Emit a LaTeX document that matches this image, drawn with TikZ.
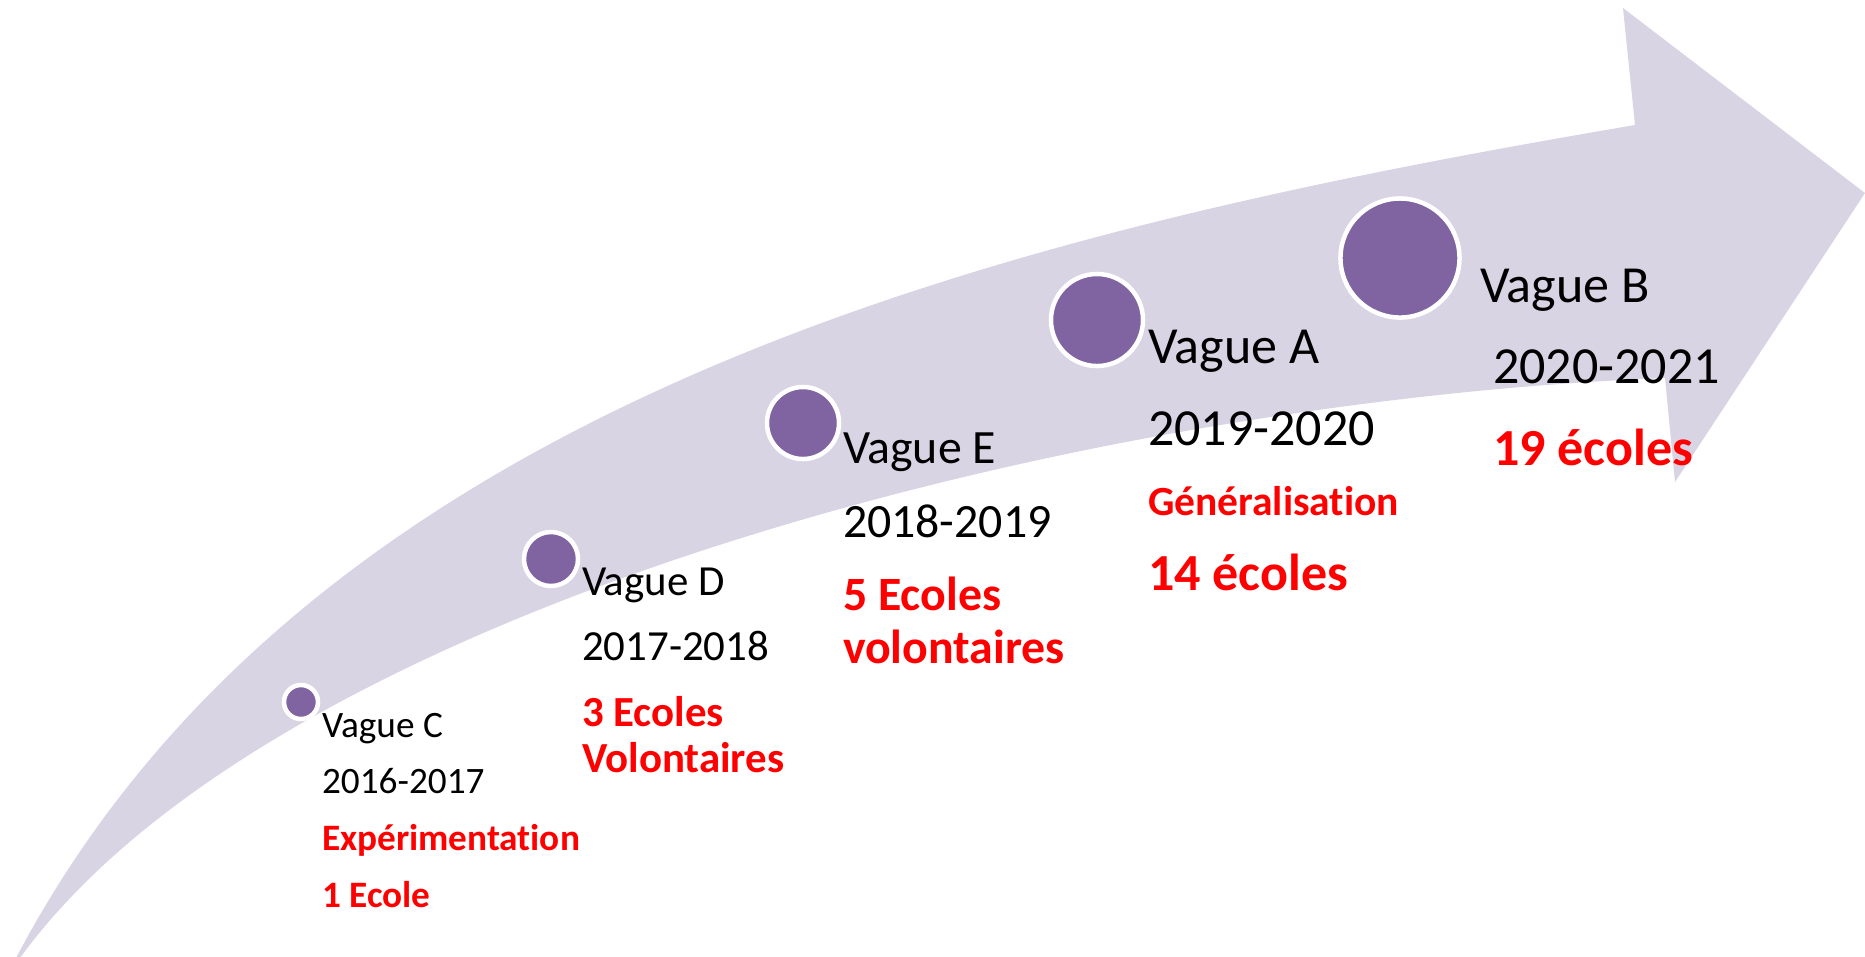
\documentclass[tikz,border=0pt]{standalone}
\usepackage{fontspec}
\setmainfont{Carlito}[Ligatures={NoCommon}]
\definecolor{arrowfill}{RGB}{216,212,227}
\definecolor{dotfill}{RGB}{128,100,162}
\definecolor{txtred}{RGB}{255,0,0}
\tikzset{
  lab/.style={anchor=base west, inner sep=0pt, outer sep=0pt, text=black},
  redlab/.style={lab, text=txtred, font=\bfseries},
  dot/.style={circle, fill=dotfill, draw=white, line width=0.045cm, inner sep=0pt, outer sep=0pt},
  fsC/.style={font=\fontsize{10.6pt}{12pt}\selectfont},
  fsCb/.style={font=\fontsize{10.6pt}{12pt}\selectfont\bfseries},
  fsD/.style={font=\fontsize{12.2pt}{14pt}\selectfont},
  fsDb/.style={font=\fontsize{12.2pt}{14pt}\selectfont\bfseries},
  fsE/.style={font=\fontsize{13.6pt}{16pt}\selectfont},
  fsEb/.style={font=\fontsize{13.6pt}{16pt}\selectfont\bfseries},
  fsA/.style={font=\fontsize{14.8pt}{17pt}\selectfont},
  fsAb/.style={font=\fontsize{14.8pt}{17pt}\selectfont\bfseries},
  fsAs/.style={font=\fontsize{11.8pt}{14pt}\selectfont\bfseries},
}
\begin{document}
\begin{tikzpicture}[x=0.01cm, y=-0.01cm]
\useasboundingbox (0,0) rectangle (1865,956);
\clip (0,0) rectangle (1865,956);
% curved arrow
\fill[arrowfill] (16,958) .. controls (316,388) and (1035,227) .. (1635,125)
  -- (1623,8) -- (1865,193) -- (1675,482) -- (1665,378)
  .. controls (1065,402) and (270,613) .. (20,958)
  -- cycle;
% circles
\node[dot, minimum size=0.34cm] (cC) at (301,702) {};
\node[dot, minimum size=0.54cm] (cD) at (551,559) {};
\node[dot, minimum size=0.72cm] (cE) at (803,423) {};
\node[dot, minimum size=0.92cm] (cA) at (1097,320) {};
\node[dot, minimum size=1.19cm] (cB) at (1400,258) {};
% Vague C
\node[lab, fsC] (tC1) at (322,737) {Vague C};
\node[lab, fsC] (tC2) at (322,793) {2016-2017};
\node[redlab, fsCb] (tC3) at (322,850) {Expérimentation};
\node[redlab, fsCb] (tC4) at (322,907) {1 Ecole};
% Vague D
\node[lab, fsD] (tD1) at (582,595) {Vague D};
\node[lab, fsD] (tD2) at (582,660) {2017-2018};
\node[redlab, fsDb] (tD3) at (582,726) {3 Ecoles};
\node[redlab, fsDb] (tD4) at (582,772) {Volontaires};
% Vague E
\node[lab, fsE] (tE1) at (843,463) {Vague E};
\node[lab, fsE] (tE2) at (843,537) {2018-2019};
\node[redlab, fsEb] (tE3) at (843,610) {5 Ecoles};
\node[redlab, fsEb] (tE4) at (843,663) {volontaires};
% Vague A
\node[lab, fsA] (tA1) at (1148,363) {Vague A};
\node[lab, fsA] (tA2) at (1148,445) {2019-2020};
\node[redlab, fsAs] (tA3) at (1148,515) {Généralisation};
\node[redlab, fsAb] (tA4) at (1148,590) {14 écoles};
% Vague B
\node[lab, fsA] (tB1) at (1480,302) {Vague B};
\node[lab, fsA] (tB2) at (1493,383) {2020-2021};
\node[redlab, fsAb] (tB3) at (1493,465) {19 écoles};
\end{tikzpicture}
\end{document}
